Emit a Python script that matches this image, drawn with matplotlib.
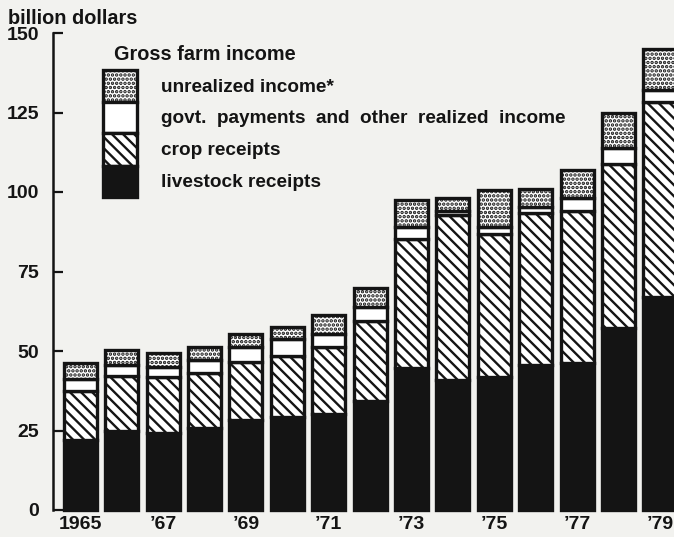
import matplotlib.pyplot as plt
from matplotlib.patches import Rectangle
import numpy as np

plt.rcParams['font.family'] = ['Liberation Sans', 'DejaVu Sans']
plt.rcParams['font.weight'] = 'bold'
plt.rcParams['hatch.linewidth'] = 1.7

years = list(range(1965, 1980))
tick_labels = ['1965', '', '\u201967', '', '\u201969', '', '\u201971', '',
               '\u201973', '', '\u201975', '', '\u201977', '', '\u201979']

# billion dollars
livestock = [22.0, 24.8, 24.1, 25.7, 28.3, 29.3, 30.2, 34.4, 44.5, 40.9, 41.9, 45.6, 46.1, 57.1, 67.1]
crops = [15.5, 17.3, 17.8, 17.5, 18.3, 19.1, 21.0, 25.1, 40.8, 51.9, 44.8, 47.9, 47.9, 51.7, 61.3]
govt_other = [3.7, 3.4, 3.2, 4.0, 4.8, 5.3, 4.1, 4.4, 3.8, 1.2, 2.4, 1.9, 4.2, 4.9, 3.7]
unrealized = [4.9, 4.8, 4.4, 4.2, 3.9, 3.9, 5.9, 5.8, 8.4, 4.2, 11.5, 5.4, 8.7, 11.0, 12.9]

ink = '#141414'
paper = '#f2f2ef'
crop_hatch = '\\\\\\'
dot_hatch = '....'

W, H = 674, 537
fig = plt.figure(figsize=(W / 100, H / 100), dpi=100, facecolor=paper)
ax = fig.add_axes([53 / W, 1 - 510 / H, 1 - 53 / W, (510 - 33) / H])
ax.set_facecolor(paper)

x = np.arange(len(years))
style = dict(width=0.8, edgecolor=ink, linewidth=2.4, clip_on=False)
b = np.zeros(len(years))
ax.bar(x, livestock, bottom=b, color=ink, **style)
b += livestock
ax.bar(x, crops, bottom=b, color='white', hatch=crop_hatch, **style)
b += crops
ax.bar(x, govt_other, bottom=b, color='white', **style)
b += govt_other
ax.bar(x, unrealized, bottom=b, color='white', hatch=dot_hatch, **style)

ax.set_xlim(-0.66, 14.34)
ax.set_ylim(0, 150)
ax.set_yticks([0, 25, 50, 75, 100, 125, 150])
ax.tick_params(axis='y', direction='in', length=7, width=1.6, color=ink,
               labelsize=14, labelcolor=ink, pad=10)
ax.set_xticks(x)
ax.set_xticklabels(tick_labels)
ax.tick_params(axis='x', length=0, labelsize=14, labelcolor=ink, pad=4)
for s in ['top', 'right', 'bottom']:
    ax.spines[s].set_visible(False)
ax.spines['left'].set_linewidth(1.8)
ax.spines['left'].set_color(ink)

fig.text(8 / W, 1 - 18 / H, 'billion dollars', fontsize=14.3, color=ink, va='center')

# legend: a small stacked bar with labels
def fx(px):
    return px / W

def fy(py):
    return 1 - py / H

fig.text(fx(114), fy(54), 'Gross farm income', fontsize=14.3, color=ink, va='center')
swatches = [(dot_hatch, 'white', 'unrealized income*', 70, 102),
            (None, 'white', 'govt.  payments  and  other  realized  income', 102, 133),
            (crop_hatch, 'white', 'crop receipts', 133, 166),
            (None, ink, 'livestock receipts', 166, 197)]
for hatch, fc, label, top, bot in swatches:
    fig.patches.append(Rectangle((fx(103), fy(bot)), fx(137) - fx(103), fy(top) - fy(bot),
                                 transform=fig.transFigure, facecolor=fc, hatch=hatch,
                                 edgecolor=ink, linewidth=2.4))
    fig.text(fx(161), fy((top + bot) / 2 + 1), label, fontsize=13.7, color=ink, va='center')

fig.savefig('out.png', dpi=100, facecolor=paper)
